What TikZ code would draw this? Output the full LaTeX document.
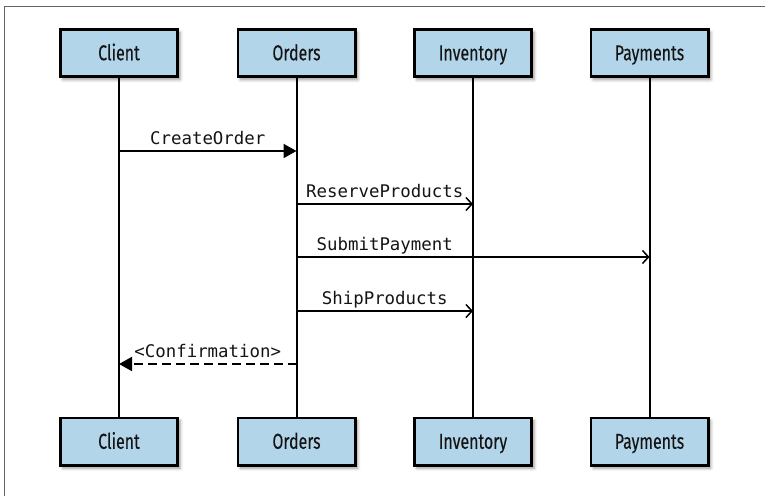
\documentclass[tikz,border=0pt]{standalone}
\usepackage{fontspec}
\usetikzlibrary{arrows.meta,shadows.blur}
\newfontfamily\boxfont[FakeStretch=0.74,FakeBold=0.15]{Fira Sans}
\newfontfamily\msgfont{DejaVu Sans Mono}
\definecolor{boxblue}{RGB}{178,213,234}
\definecolor{framegray}{RGB}{100,100,100}
\definecolor{inkdark}{RGB}{20,20,20}

\tikzset{
  actor/.style={draw=black, line width=2.6pt, fill=boxblue,
    minimum width=117.4pt, minimum height=47.4pt, inner sep=0pt,
    text height=14.5pt, text depth=0pt,
    font=\boxfont\fontsize{21.5}{24}\selectfont, text=inkdark,
    blur shadow={shadow xshift=2.5pt, shadow yshift=-3pt,
      shadow blur radius=3pt, shadow opacity=40}},
  lifeline/.style={line width=2pt, black},
  call/.style={line width=2pt, black, -{Triangle[length=13pt,width=14pt]}},
  async/.style={line width=2pt, black,
    -{Straight Barb[length=6pt,width=13pt,line width=1.5pt]}},
  reply/.style={line width=2pt, black, dash pattern=on 9pt off 5pt,
    -{Triangle[length=13pt,width=14pt]}},
  msglabel/.style={anchor=base, yshift=6.5pt, inner sep=0pt,
    font=\msgfont\fontsize{17.4}{20}\selectfont, text=inkdark},
  frameline/.style={line width=1pt, framegray}
}

\begin{document}
\begin{tikzpicture}[x=1pt, y=-1pt]
  \useasboundingbox (0,0) rectangle (765,496);
  \draw[frameline] (4,496) -- (4,6) -- (765,6);

  % participants, top row and bottom row
  \node[actor] (clientT) at (119,53)    {Client};
  \node[actor] (ordersT) at (296.5,53)  {Orders};
  \node[actor] (invT)    at (473,53)    {Inventory};
  \node[actor] (payT)    at (649.5,53)  {Payments};
  \node[actor] (clientB) at (119,441.5)   {Client};
  \node[actor] (ordersB) at (296.5,441.5) {Orders};
  \node[actor] (invB)    at (473,441.5)   {Inventory};
  \node[actor] (payB)    at (649.5,441.5) {Payments};

  % lifelines
  \draw[lifeline] (clientT.south) -- (clientB.north);
  \draw[lifeline] (ordersT.south) -- (ordersB.north);
  \draw[lifeline] (invT.south)    -- (invB.north);
  \draw[lifeline] (payT.south)    -- (payB.north);

  % message rows
  \coordinate (r1) at (0,151);
  \coordinate (r2) at (0,204);
  \coordinate (r3) at (0,257);
  \coordinate (r4) at (0,311);
  \coordinate (r5) at (0,364);

  \draw[call]  (clientT |- r1) -- node[msglabel]{CreateOrder} (ordersT |- r1);
  \draw[async] (ordersT |- r2) -- node[msglabel]{ReserveProducts} (invT |- r2);
  \draw[async] (ordersT |- r3) -- node[msglabel, pos=0.25]{SubmitPayment} (payT |- r3);
  \draw[async] (ordersT |- r4) -- node[msglabel]{ShipProducts} (invT |- r4);
  \draw[reply] (ordersT |- r5) -- node[msglabel]{<Confirmation>} (clientT |- r5);
\end{tikzpicture}
\end{document}
